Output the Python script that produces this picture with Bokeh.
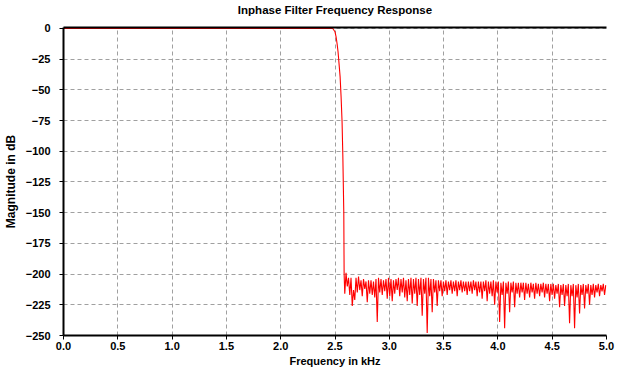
import re
from bokeh.plotting import figure
from bokeh.models import Range1d, FixedTicker, ColumnDataSource, CustomJSTickFormatter, LinearAxis
from bokeh.embed import file_html
from bokeh.resources import INLINE

# ---- data ----
title_text = "Inphase Filter Frequency Response"
x_ticks = [0.0, 0.5, 1.0, 1.5, 2.0, 2.5, 3.0, 3.5, 4.0, 4.5, 5.0]
y_ticks = [0, -25, -50, -75, -100, -125, -150, -175, -200, -225, -250]

# passband + transition band (kHz, dB)
pass_freq = [0.0, 2.479, 2.500, 2.510, 2.519, 2.528, 2.537, 2.547, 2.556, 2.565, 2.572, 2.581, 2.584]
pass_db = [0, 0, -2.7, -6.8, -12.2, -18.9, -28.4, -39.2, -55.5, -75.8, -102.8, -150, -200]

# stopband samples: start frequency and spacing of the sampled points (kHz)
stop_start = 2.590
stop_step = 0.0115
stop_db = [
    -216, -199, -210, -203, -217, -203, -226, -213, -221, -203,
    -215, -202, -213, -205, -218, -204, -212, -206, -223, -205,
    -216, -205, -217, -206, -219, -204, -239, -203, -215, -204,
    -217, -205, -214, -204, -220, -203, -218, -204, -222, -205,
    -216, -204, -213, -203, -218, -204, -215, -203, -219, -205,
    -222, -204, -217, -203, -224, -204, -216, -203, -226, -204,
    -217, -203, -234, -204, -216, -203, -248, -203, -218, -204,
    -231, -204, -215, -205, -226, -205, -214, -205, -218, -206,
    -214, -205, -217, -206, -213, -205, -216, -206, -214, -205,
    -218, -206, -213, -205, -215, -206, -214, -206, -217, -206,
    -214, -206, -216, -205, -213, -206, -218, -206, -215, -206,
    -220, -206, -214, -205, -222, -206, -216, -206, -218, -205,
    -225, -206, -215, -206, -239, -207, -217, -206, -244, -207,
    -216, -206, -231, -207, -215, -206, -227, -207, -216, -207,
    -219, -207, -215, -207, -221, -207, -216, -208, -219, -207,
    -215, -208, -220, -207, -216, -208, -218, -208, -215, -207,
    -219, -208, -216, -208, -222, -208, -217, -208, -220, -209,
    -216, -208, -227, -209, -217, -208, -226, -209, -218, -208,
    -240, -209, -218, -208, -244, -209, -219, -208, -232, -209,
    -217, -208, -228, -209, -216, -208, -225, -209, -217, -208,
    -219, -209, -215, -208, -218, -209, -214, -208, -217, -209,
]

stop_freq = [stop_start + stop_step * i for i in range(len(stop_db))]
freq = pass_freq + stop_freq
mag = pass_db + stop_db

FONT = "Liberation Sans"

p = figure(
    width=621, height=371,
    x_range=Range1d(0, 5), y_range=Range1d(-250, 0.8),
    output_backend="svg", toolbar_location=None,
    min_border_left=63, min_border_right=15, min_border_top=27, min_border_bottom=36,
)
p.background_fill_color = "white"
p.border_fill_color = "white"
p.outline_line_color = None

# grid
for g, t in ((p.xgrid, x_ticks), (p.ygrid, y_ticks)):
    g.ticker = FixedTicker(ticks=t)
    g.grid_line_color = "#a0a0a0"
    g.grid_line_dash = "4 3"
    g.grid_line_width = 1

# axes
p.xaxis.ticker = FixedTicker(ticks=x_ticks)
p.yaxis.ticker = FixedTicker(ticks=y_ticks)
p.xaxis.formatter = CustomJSTickFormatter(code="return tick.toFixed(1);")
p.xaxis.axis_label = "Frequency in kHz"
p.yaxis.axis_label = "Magnitude in dB"
for ax in (p.xaxis, p.yaxis):
    ax.axis_line_color = "black"
    ax.axis_line_width = 2
    ax.major_tick_line_color = "black"
    ax.major_tick_out = 4
    ax.major_tick_in = 0
    ax.minor_tick_line_color = None
    ax.major_label_text_font = FONT
    ax.major_label_text_font_size = "11px"
    ax.major_label_text_font_style = "bold"
    ax.major_label_text_color = "black"
    ax.axis_label_text_font = FONT
    ax.axis_label_text_font_style = "bold"
    ax.axis_label_text_color = "black"
p.xaxis.axis_label_text_font_size = "11px"
p.yaxis.axis_label_text_font_size = "12px"
p.xaxis.major_label_standoff = 2
p.xaxis.axis_label_standoff = 2
p.yaxis.major_label_standoff = 9
p.yaxis.axis_label_standoff = 5

# top frame line that also carries the chart title
top_axis = LinearAxis(ticker=FixedTicker(ticks=[]), axis_label=title_text,
                      axis_line_color="black", axis_line_width=2,
                      major_tick_line_color=None, minor_tick_line_color=None,
                      major_label_text_font_size="0px",
                      axis_label_text_font=FONT, axis_label_text_font_size="11.5px",
                      axis_label_text_font_style="bold", axis_label_text_color="black",
                      axis_label_standoff=12)
p.add_layout(top_axis, "above")

src = ColumnDataSource(data=dict(f=freq, db=mag))
p.line("f", "db", source=src, line_color="#ff0000", line_width=1.1)

html = file_html(p, INLINE)
html = re.sub(r"<body([^>]*)>", r'<body\1 style="background:#808080;">', html, count=1)
open("out.html", "w").write(html)
